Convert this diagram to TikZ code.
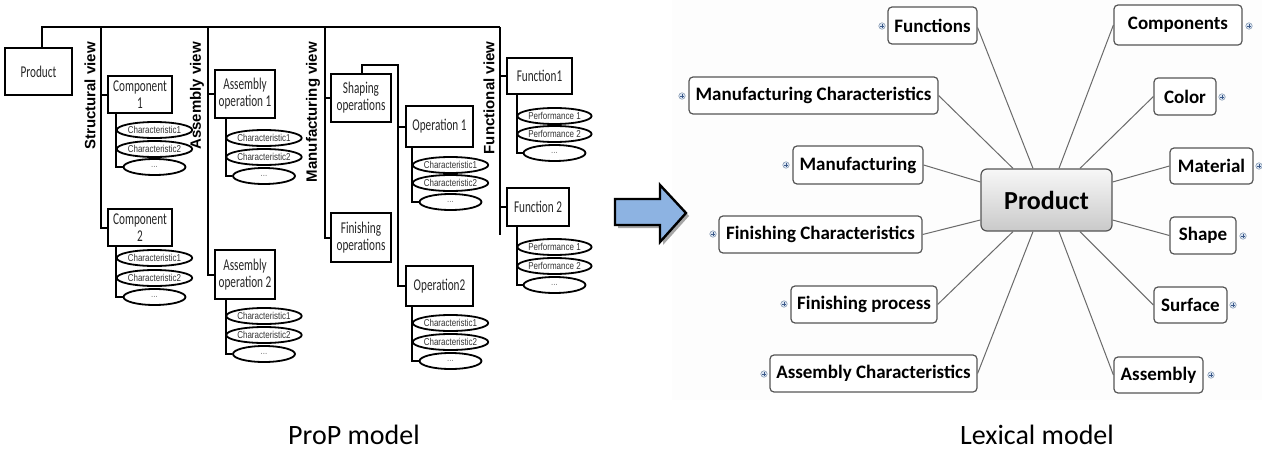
\documentclass[tikz,border=0pt]{standalone}
\usepackage{fontspec}
\setmainfont{Carlito}
\newfontfamily\boxfont[FakeStretch=0.68]{Carlito}
\newfontfamily\elfont[FakeStretch=0.8]{Liberation Sans}
\newfontfamily\viewfont{Liberation Sans}
\usetikzlibrary{shapes.geometric,calc}
\definecolor{arrowblue}{HTML}{8DB3E2}
\definecolor{linegray}{HTML}{6A6A6A}
\definecolor{boxgray}{HTML}{555555}
\definecolor{plusfill}{HTML}{DCE6F2}
\definecolor{plusline}{HTML}{7F93AD}
\definecolor{plusmark}{HTML}{3C5A8A}
\definecolor{bgfaint}{HTML}{FDFDFD}
\newcommand{\cgroup}[9]{%
  \node[chr] (#1a) at (#4,#5) {#8};
  \node[chr] (#1b) at (#4,#6) {#9};
  \node[chr] (#1c) at (#4,#7) {\textcolor{black!55}{...}};
  \coordinate (#1v) at (#3,0);
  \draw[tline] (#1v |- #2.south) |- (#1c.west);
  \draw[tline] (#1v |- #1a.west) -- (#1a.west);
  \draw[tline] (#1v |- #1b.west) -- (#1b.west);
}
\begin{document}
\begin{tikzpicture}[x=1pt,y=-1pt,
  pbox/.style={draw,line width=2.2pt,inner sep=0pt,align=center,text=black!85,
    font=\boxfont\fontsize{16.5}{17}\selectfont},
  chr/.style={draw,ellipse,line width=1.8pt,minimum width=62pt,minimum height=16pt,
    inner sep=0pt,text=black!80,font=\elfont\fontsize{10}{10}\selectfont},
  tline/.style={line width=2pt},
  vlabel/.style={rotate=90,font=\viewfont\bfseries\fontsize{15}{15}\selectfont},
  mbox/.style={draw=boxgray,line width=1.2pt,rounded corners=4pt,fill=white,
    inner sep=0pt,font=\bfseries\fontsize{19}{19}\selectfont},
  mline/.style={draw=linegray,line width=1pt},
  plus/.style={circle,draw=plusline,line width=0.5pt,fill=plusfill,minimum size=6.5pt,
    inner sep=0pt,path picture={
      \draw[plusmark,line width=0.6pt] ([xshift=-1.8pt]path picture bounding box.center)
        -- ([xshift=1.8pt]path picture bounding box.center);
      \draw[plusmark,line width=0.6pt] ([yshift=-1.8pt]path picture bounding box.center)
        -- ([yshift=1.8pt]path picture bounding box.center);}},
  caption/.style={anchor=base,text depth=0pt,font=\fontsize{28}{28}\selectfont}
]
\useasboundingbox (0,0) rectangle (1262,450);
\fill[bgfaint] (672,0) rectangle (1262,400);

% ---------------- ProP model ----------------
\node[pbox,minimum width=67pt,minimum height=47pt] (prodL) at (38.5,71.5) {Product};
\node[pbox,minimum width=64pt,minimum height=37pt] (comp1) at (140,94.5) {Component\\1};
\node[pbox,minimum width=64pt,minimum height=37pt] (comp2) at (140,227.5) {Component\\2};
\node[pbox,minimum width=60pt,minimum height=48pt] (asm1) at (245,94) {Assembly\\operation 1};
\node[pbox,minimum width=60pt,minimum height=49pt] (asm2) at (245,274.5) {Assembly\\operation 2};
\node[pbox,minimum width=60pt,minimum height=48pt] (shp) at (361,98) {Shaping\\operations};
\node[pbox,minimum width=60pt,minimum height=49pt] (fin) at (361,237.5) {Finishing\\operations};
\node[pbox,minimum width=67pt,minimum height=41pt] (op1) at (439.5,126.5) {Operation 1};
\node[pbox,minimum width=67pt,minimum height=40pt] (op2) at (439.5,286) {Operation2};
\node[pbox,minimum width=65pt,minimum height=36pt] (fun1) at (539.5,76) {Function1};
\node[pbox,minimum width=62pt,minimum height=38pt] (fun2) at (538,207) {Function 2};

\node[vlabel] (lsv) at (90,96) {Structural view};
\node[vlabel] (lav) at (197,96) {Assembly view};
\node[vlabel] (lmv) at (313,112) {Manufacturing view};
\node[vlabel] (lfv) at (489,98) {Functional view};

\coordinate (topL) at (42,27);
\coordinate (topR) at (500,27);
\draw[tline] (topL |- prodL.north) -- (topL) -- (topR);

\coordinate (sv) at (101,27);
\draw[tline] (sv) |- (comp2.west);
\draw[tline] (sv |- comp1.west) -- (comp1.west);
\coordinate (av) at (208,27);
\draw[tline] (av) |- (asm2.west);
\draw[tline] (av |- asm1.west) -- (asm1.west);
\coordinate (mv) at (325,27);
\draw[tline] (mv) |- (fin.west);
\draw[tline] (mv |- shp.west) -- (shp.west);
\coordinate (fv) at (500,27);
\coordinate (fvEnd) at (500,235);
\draw[tline] (fv) -- (fvEnd);
\draw[tline] (fv |- fun1.west) -- (fun1.west);
\draw[tline] (fv |- fun2.west) -- (fun2.west);

\coordinate (sb1) at (362,65);
\coordinate (sb2) at (398,65);
\draw[tline] (sb1 |- shp.north) -- (sb1) -- (sb2) |- (op2.west);
\draw[tline] (sb2 |- op1.west) -- (op1.west);

\cgroup{ca}{comp1}{116}{154.5}{130}{149}{167}{Characteristic1}{Characteristic2}
\cgroup{cb}{comp2}{116}{154.5}{258}{278}{297}{Characteristic1}{Characteristic2}
\cgroup{aa}{asm1}{226}{264}{138}{157}{176}{Characteristic1}{Characteristic2}
\cgroup{ab}{asm2}{226}{264}{316}{335}{354}{Characteristic1}{Characteristic2}
\cgroup{oa}{op1}{412}{450.5}{165}{183}{202}{Characteristic1}{Characteristic2}
\cgroup{ob}{op2}{412}{450.5}{323}{342}{361}{Characteristic1}{Characteristic2}
\cgroup{fa}{fun1}{517}{554.5}{116}{134}{153}{Performance 1}{Performance 2}
\cgroup{fb}{fun2}{517}{554.5}{247}{266}{285}{Performance 1}{Performance 2}

\node[caption] (cap1) at (354,444) {ProP model};

% ---------------- arrow ----------------
\fill[black!35] (618,202) -- (663,202) -- (663,188) -- (689,216) -- (663,245) -- (663,228) -- (618,228) -- cycle;
\draw[line width=2.4pt,fill=arrowblue,line join=miter] (615,199) -- (660,199) -- (660,185) -- (686,213) -- (660,242) -- (660,225) -- (615,225) -- cycle;

% ---------------- Lexical model ----------------
\node[draw=boxgray,line width=1.2pt,rounded corners=6pt,top color=gray!6,bottom color=gray!42,
  minimum width=131pt,minimum height=62pt,inner sep=0pt,
  font=\bfseries\fontsize{26}{26}\selectfont] (P) at (1046.5,200) {Product};

\node[mbox,minimum width=89pt,minimum height=37pt] (nFun) at (932.5,25.5) {Functions};
\node[mbox,minimum width=249pt,minimum height=37pt] (nMC) at (813.5,95.5) {Manufacturing Characteristics};
\node[mbox,minimum width=130pt,minimum height=38pt] (nMan) at (858,165) {Manufacturing};
\node[mbox,minimum width=203pt,minimum height=37pt] (nFC) at (820.5,234.5) {Finishing Characteristics};
\node[mbox,minimum width=146pt,minimum height=37pt] (nFP) at (864,304.5) {Finishing process};
\node[mbox,minimum width=207pt,minimum height=37pt] (nAC) at (873.5,373.5) {Assembly Characteristics};
\node[mbox,minimum width=128pt,minimum height=40pt] (nComp) at (1178,25) {Components};
\node[mbox,minimum width=62pt,minimum height=37pt] (nCol) at (1185,96.5) {Color};
\node[mbox,minimum width=83pt,minimum height=36pt] (nMat) at (1211.5,166) {Material};
\node[mbox,minimum width=66pt,minimum height=37pt] (nSh) at (1203,235.5) {Shape};
\node[mbox,minimum width=73pt,minimum height=36pt] (nSur) at (1190.5,305) {Surface};
\node[mbox,minimum width=89pt,minimum height=36pt] (nAsm) at (1158.5,375) {Assembly};

\coordinate (Pt1) at ($(P.north)+(-33.5,0)$);
\coordinate (Pt2) at ($(P.north)+(-13.5,0)$);
\coordinate (Pt3) at ($(P.north)+(12.5,0)$);
\coordinate (Pt4) at ($(P.north)+(33.5,0)$);
\coordinate (Pb1) at ($(P.south)+(-33.5,0)$);
\coordinate (Pb2) at ($(P.south)+(-13.5,0)$);
\coordinate (Pb3) at ($(P.south)+(12.5,0)$);
\coordinate (Pb4) at ($(P.south)+(33.5,0)$);
\coordinate (Pl1) at ($(P.west)+(0,-18)$);
\coordinate (Pl2) at ($(P.west)+(0,20)$);
\coordinate (Pr1) at ($(P.east)+(0,-18)$);
\coordinate (Pr2) at ($(P.east)+(0,20)$);

\draw[mline] (nMC.east) -- (Pt1);
\draw[mline] ([yshift=-2pt]nFun.east) -- (Pt2);
\draw[mline] (nComp.west) -- (Pt3);
\draw[mline] (nCol.west) -- (Pt4);
\draw[mline] (nMan.east) -- (Pl1);
\draw[mline] (nFC.east) -- (Pl2);
\draw[mline] (nMat.west) -- (Pr1);
\draw[mline] (nSh.west) -- (Pr2);
\draw[mline] (nFP.east) -- (Pb1);
\draw[mline] (nAC.east) -- (Pb2);
\draw[mline] (nAsm.west) -- (Pb3);
\draw[mline] (nSur.west) -- (Pb4);

\node[plus] (p1) at (882,26) {};
\node[plus] (p2) at (682,96) {};
\node[plus] (p3) at (786,165) {};
\node[plus] (p4) at (713,234) {};
\node[plus] (p5) at (784,304) {};
\node[plus] (p6) at (764,374) {};
\node[plus] (p7) at (1249,26) {};
\node[plus] (p8) at (1222,97) {};
\node[plus] (p9) at (1259,166) {};
\node[plus] (p10) at (1243,236) {};
\node[plus] (p11) at (1233,305) {};
\node[plus] (p12) at (1211,375) {};

\node[caption] (cap2) at (1037,444) {Lexical model};
\end{tikzpicture}
\end{document}
